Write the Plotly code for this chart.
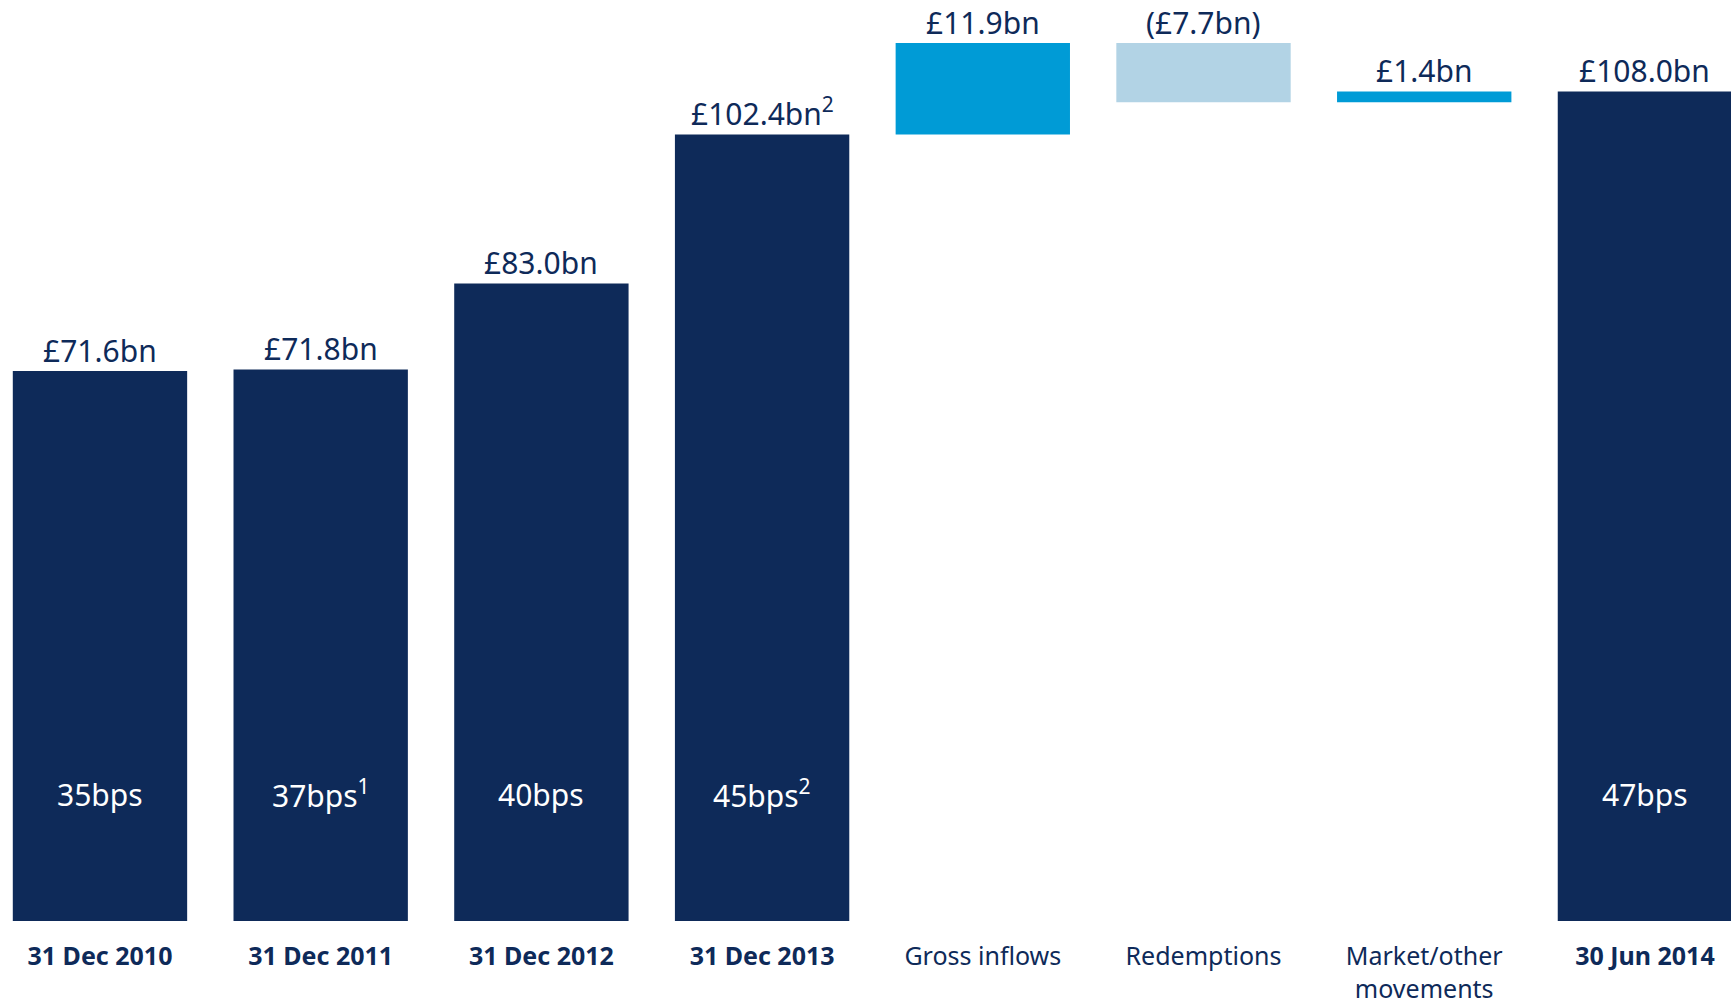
import plotly.graph_objects as go

# Assets under management bridge, £bn
categories = ["31 Dec 2010", "31 Dec 2011", "31 Dec 2012", "31 Dec 2013",
              "Gross inflows", "Redemptions", "Market/other movements", "30 Jun 2014"]
tick_labels = ["<b>31 Dec 2010</b>", "<b>31 Dec 2011</b>", "<b>31 Dec 2012</b>", "<b>31 Dec 2013</b>",
               "Gross inflows", "Redemptions", "Market/other<br>movements", "<b>30 Jun 2014</b>"]
amounts = [71.6, 71.8, 83.0, 102.4, 11.9, -7.7, 1.4, 108.0]
measures = ["absolute", "absolute", "absolute", "absolute",
            "relative", "relative", "relative", "total"]
value_labels = ["£71.6bn", "£71.8bn", "£83.0bn", "£102.4bn<sup>2</sup>",
                "£11.9bn", "(£7.7bn)", "£1.4bn", "£108.0bn"]
margin_labels = ["35bps", "37bps<sup>1</sup>", "40bps", "45bps<sup>2</sup>",
                 "", "", "", "47bps"]

NAVY = "#0e2a59"
BRIGHT = "#009bd6"
PALE = "#b2d3e5"
FONT = "Noto Sans"

x = list(range(len(categories)))

fig = go.Figure(go.Waterfall(
    x=x,
    y=amounts,
    measure=measures,
    width=0.79,
    totals=dict(marker=dict(color=NAVY)),
    increasing=dict(marker=dict(color=BRIGHT)),
    decreasing=dict(marker=dict(color=PALE)),
    connector=dict(visible=False),
    hoverinfo="skip",
))

# Value labels sit on top of each bar (highest point of the bar)
level = 0.0
tops = []
for m, v in zip(measures, amounts):
    if m == "absolute":
        level = v
        tops.append(v)
    elif m == "relative":
        start = level
        level += v
        tops.append(max(start, level))
    else:
        tops.append(level)

for xi, top, lab in zip(x, tops, value_labels):
    fig.add_annotation(x=xi, y=top, text=lab, showarrow=False,
                       yanchor="bottom", yshift=-2,
                       font=dict(family=FONT, size=30, color=NAVY))

for xi, lab in zip(x, margin_labels):
    if lab:
        fig.add_annotation(x=xi, y=16.5, text=lab, showarrow=False,
                           font=dict(family=FONT, size=30, color="white"))

fig.update_layout(
    width=1731, height=1005,
    margin=dict(l=0, r=0, t=0, b=84),
    paper_bgcolor="white", plot_bgcolor="white",
    showlegend=False,
    xaxis=dict(range=[-0.453, 7.39], tickmode="array", tickvals=x, ticktext=tick_labels,
               showgrid=False, zeroline=False, showline=False, ticks="",
               tickfont=dict(family=FONT, size=25, color=NAVY),
               ticklabelstandoff=18, automargin=False),
    yaxis=dict(range=[0, 119.9], visible=False, automargin=False),
)

fig.write_html("out.html")
